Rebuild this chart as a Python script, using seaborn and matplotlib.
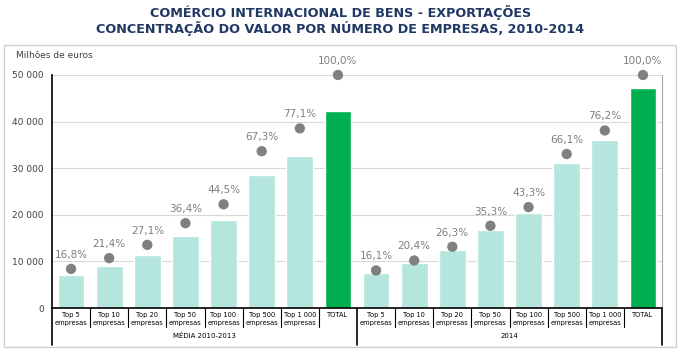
import numpy as np
import pandas as pd
import matplotlib
matplotlib.use("Agg")
import matplotlib.pyplot as plt
import matplotlib.transforms as mtransforms
from matplotlib.patches import Rectangle
import seaborn as sns

# dados (milhões de euros)
categorias = ["Top 5\nempresas", "Top 10\nempresas", "Top 20\nempresas", "Top 50\nempresas",
              "Top 100\nempresas", "Top 500\nempresas", "Top 1 000\nempresas", "TOTAL"]
grupos = ["MÉDIA 2010-2013", "2014"]
valores_media = [7100, 9050, 11450, 15400, 18800, 28450, 32600, 42300]
valores_2014 = [7600, 9600, 12400, 16650, 20400, 31200, 35950, 47200]
pct_media = [16.8, 21.4, 27.1, 36.4, 44.5, 67.3, 77.1, 100.0]
pct_2014 = [16.1, 20.4, 26.3, 35.3, 43.3, 66.1, 76.2, 100.0]

cor_top = "#b4e6dd"
cor_total = "#00b050"
cor_ponto = "#808080"

rows = []
for g, vals, pcts in [(grupos[0], valores_media, pct_media), (grupos[1], valores_2014, pct_2014)]:
    for c, v, p in zip(categorias, vals, pcts):
        rows.append({"grupo": g, "cat": c, "id": g + "|" + c, "valor": v, "pct": p})
df = pd.DataFrame(rows)
df["tipo"] = np.where(df["cat"] == "TOTAL", "total", "top")

sns.set_style("white")
plt.rcParams["font.family"] = ["DejaVu Sans"]

fig = plt.figure(figsize=(6.81, 3.57), dpi=100)
ax = fig.add_axes([52 / 681, 1 - 308 / 357, 610 / 681, 233 / 357])

sns.barplot(data=df, x="id", y="valor", hue="tipo", palette={"top": cor_top, "total": cor_total},
            dodge=False, width=0.7, saturation=1, legend=False, ax=ax, order=df["id"].tolist())
ax.set_ylim(0, 50000)
ax.set_xlim(-0.5, len(df) - 0.5)
ax.set_yticks(np.arange(0, 50001, 10000))
ax.set_yticklabels([f"{int(v):,}".replace(",", " ") for v in ax.get_yticks()], fontsize=6.5, color="#404040")
ax.yaxis.grid(True, color="#d9d9d9", linewidth=0.8)
ax.set_axisbelow(True)
ax.set_xlabel("")
ax.set_ylabel("")
ax.set_xticks([])
ax.spines["top"].set_visible(False)
ax.spines["right"].set_color("#a6a6a6")
ax.spines["left"].set_color("black")
ax.spines["left"].set_linewidth(1.2)
ax.spines["bottom"].set_color("black")
ax.spines["bottom"].set_linewidth(1.2)
ax.tick_params(axis="y", length=0, pad=6)

# pontos de percentagem num eixo secundário (0-100%)
ax2 = ax.twinx()
sns.scatterplot(x=np.arange(len(df)), y=df["pct"], color=cor_ponto, s=55, edgecolor="none", ax=ax2, clip_on=False, zorder=5)
ax2.set_ylim(0, 100)
ax2.set_xlim(-0.5, len(df) - 0.5)
ax2.axis("off")
for i, p in enumerate(df["pct"]):
    ax2.annotate(f"{p:.1f}%".replace(".", ","), (i, p), xytext=(0, 6.5), textcoords="offset points",
                 ha="center", va="bottom", fontsize=7.5, color="#7f7f7f", annotation_clip=False)

# eixo de categorias em dois níveis
trans = mtransforms.blended_transform_factory(ax.transData, ax.transAxes)
h = ax.get_position().height * 357
def ay(px):
    return -px / h
for i, c in enumerate(df["cat"]):
    ax.text(i, ay(4), c, transform=trans, ha="center", va="top", fontsize=4.8, color="black", linespacing=1.3)
for b in np.arange(-0.5, len(df), 1.0):
    grupo_lim = b in (-0.5, 7.5, 15.5)
    ax.plot([b, b], [0, ay(37 if grupo_lim else 19)], transform=trans, color="black",
            linewidth=1.2 if grupo_lim else 0.8, clip_on=False)
for k, g in enumerate(grupos):
    ax.text(k * 8 + 3.5, ay(28), g, transform=trans, ha="center", va="center", fontsize=5, color="black")

ax.text(-36 / 610, 1 + 20 / h, "Milhões de euros", transform=ax.transAxes, fontsize=6.5, color="#404040", va="center")

fig.text(0.5, 1 - 12 / 357, "COMÉRCIO INTERNACIONAL DE BENS - EXPORTAÇÕES", ha="center", va="center",
         fontsize=9.2, fontweight="bold", color="#1f3864")
fig.text(0.5, 1 - 28 / 357, "CONCENTRAÇÃO DO VALOR POR NÚMERO DE EMPRESAS, 2010-2014", ha="center", va="center",
         fontsize=9.2, fontweight="bold", color="#1f3864")

fig.patches.append(Rectangle((4 / 681, 1 - 347 / 357), 672 / 681, 302 / 357, transform=fig.transFigure,
                             fill=False, edgecolor="#d0d0d0", linewidth=1))

fig.savefig("out.png", dpi=100)
